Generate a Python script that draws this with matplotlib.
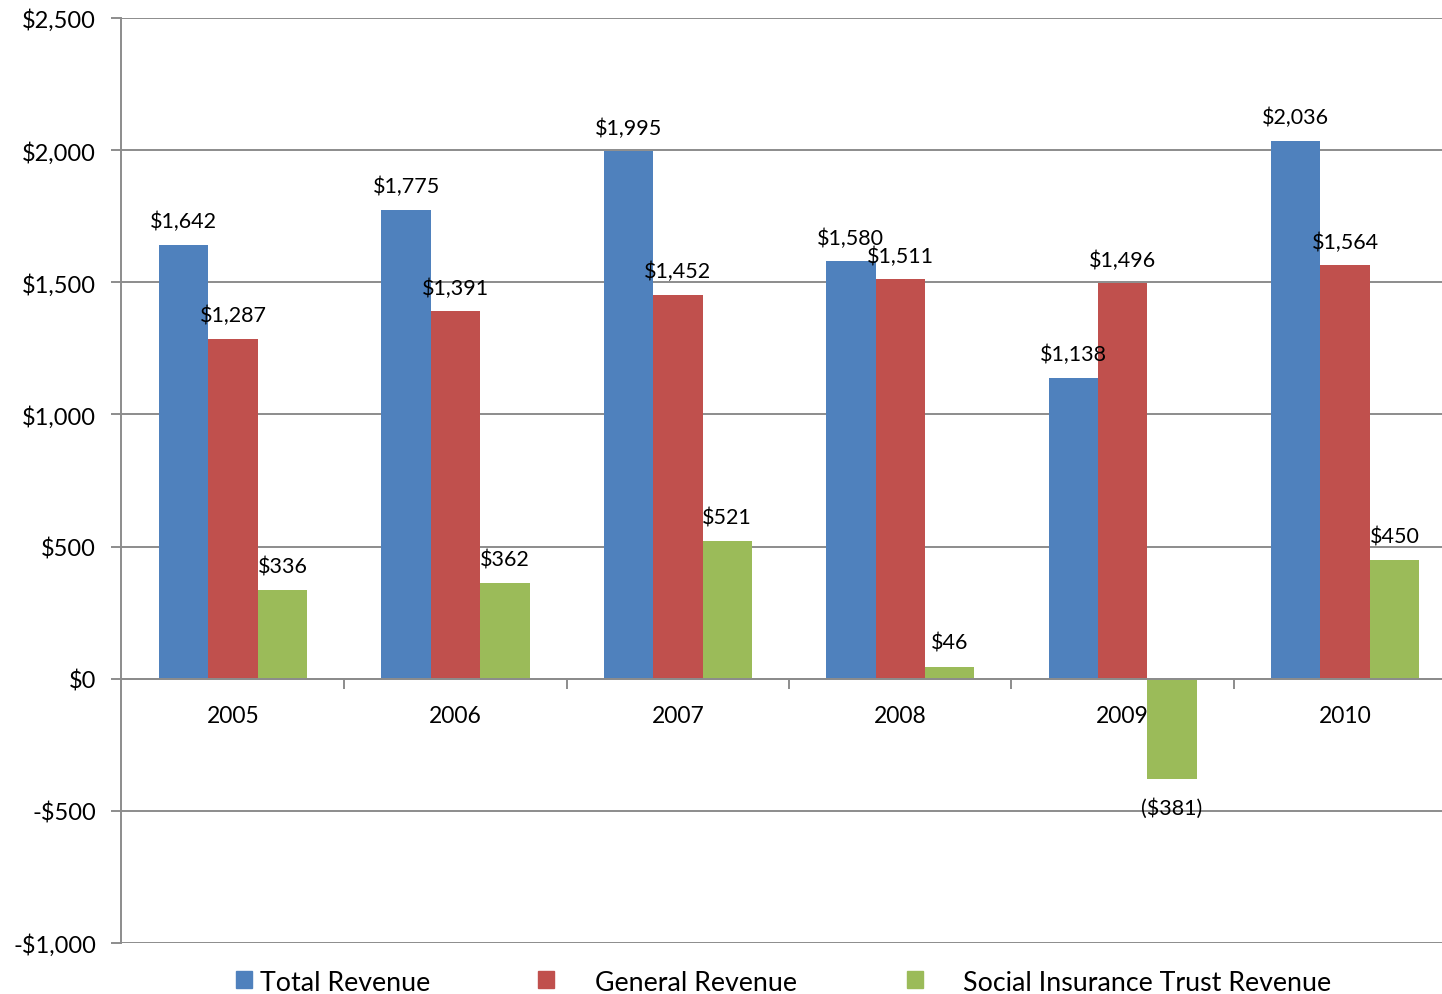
import matplotlib
matplotlib.use("Agg")
import matplotlib.pyplot as plt
import matplotlib.patches as mpatches
import numpy as np

years = ["2005", "2006", "2007", "2008", "2009", "2010"]
total_revenue = [1642, 1775, 1995, 1580, 1138, 2036]
general_revenue = [1287, 1391, 1452, 1511, 1496, 1564]
social_revenue = [336, 362, 521, 46, -381, 450]
series_names = ["Total Revenue", "General Revenue", "Social Insurance Trust Revenue"]
colors = ["#4F81BD", "#C0504D", "#9BBB59"]
yticks = [-1000, -500, 0, 500, 1000, 1500, 2000, 2500]

plt.rcParams['font.family'] = ['Lato', 'DejaVu Sans']

fig = plt.figure(figsize=(14.42, 9.95), dpi=100)
ax = fig.add_axes([121/1442, 1-944/995, 1-121/1442, (944-19)/995])

for s in ['top', 'right']:
    ax.spines[s].set_visible(False)
ax.spines['bottom'].set_position(('data', 0))

x = np.arange(len(years))
w = 0.222
offsets = [-w, 0, w]
grid_c = "#8C8C8C"

def fmt_label(v):
    return f"(${abs(v):,})" if v < 0 else f"${v:,}"

for vals, off, c in zip([total_revenue, general_revenue, social_revenue], offsets, colors):
    bars = ax.bar(x + off, vals, width=w, color=c, zorder=3, linewidth=0)
    for b, v in zip(bars, vals):
        dy = 17 if v >= 0 else -20
        ax.annotate(fmt_label(v), (b.get_x() + b.get_width()/2, v), xytext=(0, dy),
                    textcoords="offset points", ha="center", va="center", fontsize=15.5, zorder=5)

ax.set_ylim(-1000, 2500)
ax.set_xlim(-0.504, 5.436)
ax.set_yticks(yticks)
ax.set_yticklabels([("-$" + f"{abs(t):,}") if t < 0 else f"${t:,}" for t in yticks])
ax.yaxis.grid(True, color=grid_c, linewidth=1.4, zorder=0)
ax.set_axisbelow(True)

ax.set_xticks(x)
ax.set_xticklabels(years)
ax.set_xticks(np.arange(len(years) - 1) + 0.5, minor=True)
ax.tick_params(axis='x', which='major', length=0, pad=19, labelsize=16.5)
ax.tick_params(axis='x', which='minor', length=7, width=1.4, color=grid_c)
ax.tick_params(axis='y', length=7, width=1.4, color=grid_c, pad=11, labelsize=17)

ax.spines['bottom'].set_color(grid_c)
ax.spines['bottom'].set_linewidth(1.4)
ax.spines['bottom'].set_zorder(4)
ax.spines['left'].set_color(grid_c)
ax.spines['left'].set_linewidth(1.4)

# legend
leg_sq_x = [236, 538, 907]
leg_tx_x = [260, 595, 963]
for name, c, sx, tx in zip(series_names, colors, leg_sq_x, leg_tx_x):
    fig.patches.append(mpatches.Rectangle((sx/1442, 1-989/995), 16/1442, 17/995,
                                          transform=fig.transFigure, color=c))
    fig.text(tx/1442, 1-984/995, name, fontsize=19.3, va='center', ha='left')

fig.savefig("out.png", dpi=100)
